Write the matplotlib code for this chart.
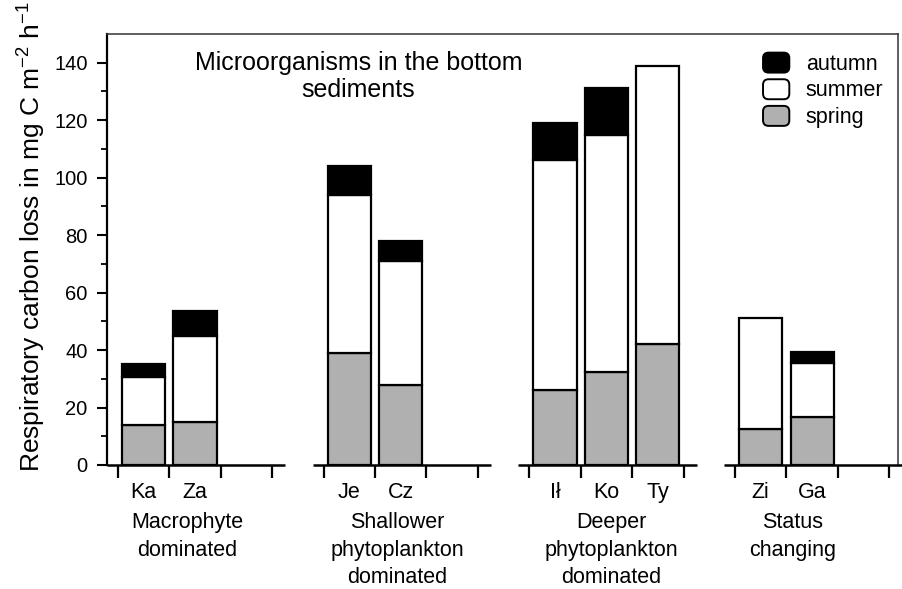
import numpy as np
import matplotlib
matplotlib.use('Agg')
import matplotlib.pyplot as plt
from matplotlib.patches import FancyBboxPatch, Patch
from matplotlib.legend_handler import HandlerPatch

plt.rcParams['font.family'] = ['Liberation Sans', 'DejaVu Sans']
plt.rcParams['mathtext.fontset'] = 'custom'
plt.rcParams['mathtext.rm'] = 'Liberation Sans'
plt.rcParams['mathtext.it'] = 'Liberation Sans'

# lakes, grouped by status; slot = position inside the group
sites = ['Ka', 'Za', 'Je', 'Cz', 'Ił', 'Ko', 'Ty', 'Zi', 'Ga']
group_idx = [0, 0, 1, 1, 2, 2, 2, 3, 3]
slot_idx = [0, 1, 0, 1, 0, 1, 2, 0, 1]
groups = ['Macrophyte\ndominated',
          'Shallower\nphytoplankton\ndominated',
          'Deeper\nphytoplankton\ndominated',
          'Status\nchanging']
group_label_x = [1.35, 5.43, 9.59, 13.12]

# respiratory carbon loss (mg C m-2 h-1), stacked per season
spring = [14.0, 15.0, 39.0, 28.0, 26.0, 32.5, 42.0, 12.5, 16.8]
summer = [16.5, 30.0, 55.0, 43.0, 80.3, 82.4, 96.7, 38.8, 18.7]
autumn = [4.5, 8.5, 10.0, 7.0, 12.8, 16.3, 0.0, 0.0, 3.9]

colors = {'spring': '#b0b0b0', 'summer': 'white', 'autumn': 'black'}

fig = plt.figure(figsize=(9.02, 5.89), dpi=100)
ax = fig.add_axes([107 / 902, 1 - 465 / 589, (898 - 107) / 902, (465 - 34) / 589])

x = np.array(group_idx) * 4 + np.array(slot_idx) + 0.5
spring = np.array(spring)
summer = np.array(summer)
autumn = np.array(autumn)
w = 0.84
kw = dict(width=w, edgecolor='black', linewidth=1.6, zorder=3)
ax.bar(x, spring, color=colors['spring'], **kw)
ax.bar(x, summer, bottom=spring, color=colors['summer'], **kw)
m = autumn > 0
ax.bar(x[m], autumn[m], bottom=(spring + summer)[m], color=colors['autumn'], **kw)

ax.set_xlim(-0.21, 15.17)
ax.set_ylim(0, 150)

# axis frame: left axis, thin top/right, bottom drawn per group
ax.spines['bottom'].set_visible(False)
ax.spines['left'].set_linewidth(1.6)
for s in ['top', 'right']:
    ax.spines[s].set_linewidth(1.1)
    ax.spines[s].set_color('#333333')
for g in range(4):
    ax.plot([4 * g - 0.21, 4 * g + 3.26], [0, 0], color='black', lw=1.8,
            solid_capstyle='butt', clip_on=False, zorder=4)

ax.set_yticks(np.arange(0, 141, 20))
ax.set_yticks(np.arange(0, 150, 10), minor=True)
ax.tick_params(axis='y', which='major', direction='out', length=7, width=1.5,
               labelsize=14.5, pad=7, right=False)
ax.tick_params(axis='y', which='minor', direction='out', length=4, width=1.3)

ax.set_xticks(np.arange(0, 16))
ax.set_xticklabels([])
ax.set_xticks(x, minor=True)
ax.set_xticklabels(sites, minor=True)
ax.tick_params(axis='x', which='major', direction='out', length=9, width=1.6)
ax.tick_params(axis='x', which='minor', length=0, labelsize=15.5, pad=12)

trans = ax.get_xaxis_transform()
for gx, name in zip(group_label_x, groups):
    ax.text(gx, -0.11, name, transform=trans, ha='center', va='top',
            fontsize=15.5, linespacing=1.4)

ax.set_ylabel('Respiratory carbon loss in mg C m$^{-2}$ h$^{-1}$', fontsize=19)
ax.yaxis.set_label_coords(-0.075, 0.53)

ax.text(4.68, 135.3, 'Microorganisms in the bottom\nsediments', ha='center',
        va='center', fontsize=18, linespacing=1.15)


def rounded(legend, orig_handle, xdescent, ydescent, width, height, fontsize):
    return FancyBboxPatch((-xdescent + 1, -ydescent + 1), width - 2, height - 2,
                          boxstyle='round,pad=0,rounding_size=4')


handles = [Patch(facecolor=colors[k], edgecolor='black', linewidth=1.4)
           for k in ['autumn', 'summer', 'spring']]
ax.legend(handles, ['autumn', 'summer', 'spring'], loc='upper left',
          bbox_to_anchor=(0.814, 0.985), frameon=False, borderpad=0,
          fontsize=15.5, handlelength=1.35, handleheight=1.25, labelspacing=0.14,
          handletextpad=0.7, handler_map={Patch: HandlerPatch(patch_func=rounded)})

fig.savefig('out.png', dpi=100)
